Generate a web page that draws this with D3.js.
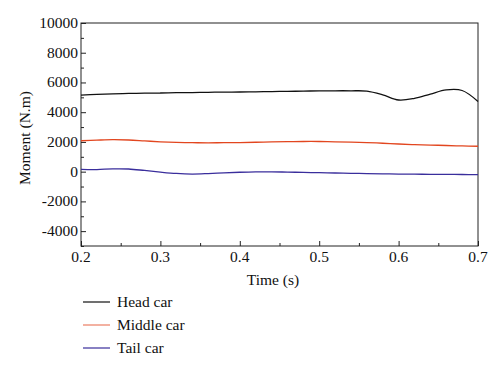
<!DOCTYPE html>
<html>
<head>
<meta charset="utf-8">
<script src="https://cdn.jsdelivr.net/npm/d3@7/dist/d3.min.js"></script>
<style>
  body { margin: 0; background: #fff; }
  svg text { font-family: "Liberation Serif", "DejaVu Serif", serif; fill: #111; }
</style>
</head>
<body>
<div id="chart"></div>
<script>
// sample times (s)
var time = [0.20, 0.22, 0.24, 0.26, 0.28, 0.30, 0.32, 0.34, 0.36, 0.38, 0.40, 0.42, 0.44,
            0.46, 0.48, 0.50, 0.52, 0.54, 0.56, 0.58, 0.60, 0.62, 0.64, 0.66, 0.68, 0.70];

// moment (N.m)
var headCar = [5150, 5200, 5230, 5260, 5280, 5290, 5310, 5320, 5340, 5350, 5360, 5370, 5390,
               5400, 5420, 5430, 5440, 5440, 5420, 5170, 4820, 4930, 5220, 5500, 5460, 4720];
var middleCar = [2080, 2120, 2150, 2130, 2070, 2010, 1970, 1950, 1940, 1950, 1960, 1980, 2000,
                 2020, 2030, 2030, 2010, 1990, 1960, 1910, 1860, 1820, 1790, 1760, 1730, 1710];
var tailCar = [150, 140, 190, 180, 80, -30, -120, -160, -130, -80, -40, -20, -10,
               -30, -50, -70, -90, -110, -130, -150, -160, -170, -180, -185, -190, -200];

var seriesNames = ["Head car", "Middle car", "Tail car"];
var seriesColors = ["#111111", "#e2461f", "#3a2e9c"];

var xTicks = [0.2, 0.3, 0.4, 0.5, 0.6, 0.7];
var yTicks = [-4000, -2000, 0, 2000, 4000, 6000, 8000, 10000];

const width = 500;
const height = 371;
const plot = { left: 81, top: 23, right: 478, bottom: 246 };
const fontSize = "15.5px";

var svg = d3.select("#chart").append("svg")
  .attr("width", width)
  .attr("height", height);

var xScale = d3.scaleLinear().domain([0.2, 0.7]).range([plot.left, plot.right]);
var yScale = d3.scaleLinear().domain([-5000, 10000]).range([plot.bottom, plot.top]);

// frame
svg.append("rect")
  .attr("x", plot.left).attr("y", plot.top)
  .attr("width", plot.right - plot.left).attr("height", plot.bottom - plot.top)
  .attr("fill", "none").attr("stroke", "#222").attr("stroke-width", 1);

// left axis, inward ticks
var yAxis = d3.axisRight(yScale).tickValues(yTicks).tickSize(5).tickFormat("");
var gy = svg.append("g").attr("transform", "translate(" + plot.left + ",0)").call(yAxis);
var yMinor = d3.axisRight(yScale).tickValues(d3.range(-5000, 10001, 1000).filter(v => v % 2000 != 0)).tickSize(3).tickFormat("");
var gym = svg.append("g").attr("transform", "translate(" + plot.left + ",0)").call(yMinor);

// bottom axis, inward ticks
var xAxis = d3.axisTop(xScale).tickValues(xTicks).tickSize(5).tickFormat("");
var gx = svg.append("g").attr("transform", "translate(0," + plot.bottom + ")").call(xAxis);
var xMinor = d3.axisTop(xScale).tickValues([0.25, 0.35, 0.45, 0.55, 0.65]).tickSize(3).tickFormat("");
var gxm = svg.append("g").attr("transform", "translate(0," + plot.bottom + ")").call(xMinor);

[gy, gym, gx, gxm].forEach(function(g){
  g.select(".domain").remove();
  g.selectAll("line").attr("stroke", "#222");
});

// tick labels
svg.append("g").selectAll("text")
  .data(yTicks)
  .enter().append("text")
  .attr("x", plot.left - 3)
  .attr("y", d => yScale(d) + 5)
  .attr("text-anchor", "end")
  .style("font-size", fontSize)
  .text(d => d);

svg.append("g").selectAll("text")
  .data(xTicks)
  .enter().append("text")
  .attr("x", d => xScale(d))
  .attr("y", 262)
  .attr("text-anchor", "middle")
  .style("font-size", fontSize)
  .text(d => d.toFixed(1));

// axis titles
svg.append("text")
  .attr("transform", "translate(30,138) rotate(-90)")
  .attr("text-anchor", "middle")
  .style("font-size", fontSize)
  .text("Moment (N.m)");

svg.append("text")
  .attr("x", 273).attr("y", 285)
  .attr("text-anchor", "middle")
  .style("font-size", fontSize)
  .text("Time (s)");

// series
var allSeries = [headCar, middleCar, tailCar];
var line = d3.line()
  .x((d, i) => xScale(time[i]))
  .y(d => yScale(d))
  .curve(d3.curveCatmullRom);

svg.append("g").selectAll("path")
  .data(allSeries)
  .enter().append("path")
  .attr("d", line)
  .attr("fill", "none")
  .attr("stroke", (d, i) => seriesColors[i])
  .attr("stroke-width", 1.3);

// legend
var legend = svg.append("g").selectAll("g")
  .data(seriesNames)
  .enter().append("g")
  .attr("transform", (d, i) => "translate(83," + (302 + i * 23) + ")");

legend.append("line")
  .attr("x1", 0).attr("x2", 27)
  .attr("stroke", (d, i) => seriesColors[i])
  .attr("stroke-opacity", (d, i) => i == 1 ? 0.7 : 1)
  .attr("stroke-width", 1.2);

legend.append("text")
  .attr("x", 34).attr("y", 5)
  .style("font-size", fontSize)
  .text(d => d);
</script>
</body>
</html>
